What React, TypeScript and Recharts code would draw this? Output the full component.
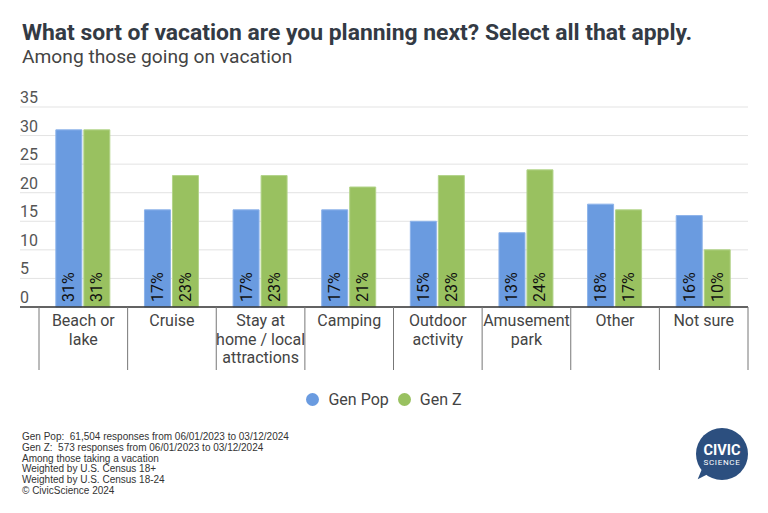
import React from "react";
import { BarChart, Bar, XAxis, YAxis, CartesianGrid, Legend, LabelList } from "recharts";

const categories = [
  "Beach or\nlake",
  "Cruise",
  "Stay at\nhome / local\nattractions",
  "Camping",
  "Outdoor\nactivity",
  "Amusement\npark",
  "Other",
  "Not sure",
];
const genPop = [31, 17, 17, 17, 15, 13, 18, 16];
const genZ = [31, 23, 23, 21, 23, 24, 17, 10];
const yTicks = [0, 5, 10, 15, 20, 25, 30, 35];
const seriesNames = ["Gen Pop", "Gen Z"];
const footerLines = [
  "Gen Pop:  61,504 responses from 06/01/2023 to 03/12/2024",
  "Gen Z:  573 responses from 06/01/2023 to 03/12/2024",
  "Among those taking a vacation",
  "Weighted by U.S. Census 18+",
  "Weighted by U.S. Census 18-24",
  "\u00A9 CivicScience 2024",
];

const data = categories.map((c, i) => ({ category: c, genPop: genPop[i], genZ: genZ[i] }));

const W = 768;
const H = 513;
const PLOT_LEFT = 39;
const PLOT_RIGHT = 748;
const BAND = (PLOT_RIGHT - PLOT_LEFT) / categories.length;
const BLUE = "#6a9be0";
const GREEN = "#99c160";
const FONT = "Roboto, 'Noto Sans', sans-serif";

const YTick = (props: any) => {
  const { y, payload } = props;
  const isZero = payload.value === 0;
  return (
    <g>
      <line x1={20} x2={PLOT_LEFT} y1={y} y2={y} stroke={isZero ? "#333" : "#e3e3e3"} strokeWidth={isZero ? 1.5 : 1} />
      <text x={20} y={y - 4} fontSize={16} fill="#555" fontFamily={FONT} textAnchor="start">
        {payload.value}
      </text>
    </g>
  );
};

const XTick = (props: any) => {
  const { x, y, payload, index } = props;
  const lines = String(payload.value).split("\n");
  const left = x - BAND / 2;
  const right = x + BAND / 2;
  return (
    <g>
      <line x1={left} x2={left} y1={y} y2={y + 63} stroke="#777" strokeWidth={1} />
      {index === categories.length - 1 && (
        <line x1={right} x2={right} y1={y} y2={y + 63} stroke="#777" strokeWidth={1} />
      )}
      {lines.map((l, i) => (
        <text key={i} x={x} y={y + 19 + i * 18.5} fontSize={16} fill="#444" fontFamily={FONT} textAnchor="middle">
          {l}
        </text>
      ))}
    </g>
  );
};

const BarLabel = (props: any) => {
  const { x, y, width, height, value } = props;
  const cx = x + width / 2;
  const by = y + height - 5;
  return (
    <text
      x={cx}
      y={by}
      transform={`rotate(-90, ${cx}, ${by})`}
      fontSize={16}
      fill="#111"
      fontFamily={FONT}
      textAnchor="start"
      dominantBaseline="central"
    >
      {`${value}%`}
    </text>
  );
};

const LegendContent = () => {
  const colors = [BLUE, GREEN];
  return (
    <div style={{ display: "flex", justifyContent: "center", alignItems: "center", fontFamily: FONT, fontSize: 16, color: "#444" }}>
      {seriesNames.map((n, i) => (
        <div key={n} style={{ display: "flex", alignItems: "center", marginLeft: i === 0 ? 0 : 9 }}>
          <span style={{ width: 13, height: 13, borderRadius: "50%", background: colors[i], display: "inline-block", marginRight: 9 }} />
          <span>{n}</span>
        </div>
      ))}
    </div>
  );
};

export default function App() {
  return (
    <div style={{ position: "absolute", left: 0, top: 0, width: W, height: H, background: "#fff", fontFamily: FONT, overflow: "hidden" }}>
      <div style={{ position: "absolute", left: 22, top: 19, fontSize: 22.9, fontWeight: 700, color: "#333a44", whiteSpace: "nowrap", lineHeight: "28px" }}>
        What sort of vacation are you planning next? Select all that apply.
      </div>
      <div style={{ position: "absolute", left: 22, top: 46, fontSize: 19.2, color: "#444", whiteSpace: "nowrap", lineHeight: "22px" }}>
        Among those going on vacation
      </div>
      <div style={{ position: "absolute", left: 0, top: 0 }}>
        <BarChart
          width={W}
          height={H}
          data={data}
          margin={{ top: 107, right: W - PLOT_RIGHT, bottom: 143, left: 0 }}
          barGap={2}
          barCategoryGap="19%"
        >
          <CartesianGrid vertical={false} stroke="#e3e3e3" />
          <YAxis
            width={PLOT_LEFT}
            domain={[0, 35]}
            ticks={yTicks}
            interval={0}
            axisLine={false}
            tickLine={false}
            tick={<YTick />}
          />
          <XAxis
            dataKey="category"
            height={63}
            interval={0}
            tickLine={false}
            tickSize={0}
            tickMargin={0}
            axisLine={{ stroke: "#333", strokeWidth: 1.5 }}
            tick={<XTick />}
          />
          <Legend
            verticalAlign="middle"
            layout="horizontal"
            wrapperStyle={{ top: 390, left: 0, width: W }}
            content={<LegendContent />}
          />
          <Bar dataKey="genPop" name={seriesNames[0]} fill={BLUE} stroke="#8db3ea" strokeWidth={1} isAnimationActive={false}>
            <LabelList dataKey="genPop" content={<BarLabel />} />
          </Bar>
          <Bar dataKey="genZ" name={seriesNames[1]} fill={GREEN} stroke="#b3d48a" strokeWidth={1} isAnimationActive={false}>
            <LabelList dataKey="genZ" content={<BarLabel />} />
          </Bar>
        </BarChart>
      </div>
      <div style={{ position: "absolute", left: 22, top: 432, fontFamily: "'Liberation Sans', Arial, sans-serif", fontSize: 10, color: "#333", lineHeight: "10.8px" }}>
        {footerLines.map((l) => (
          <div key={l} style={{ whiteSpace: "pre" }}>{l}</div>
        ))}
      </div>
      <svg style={{ position: "absolute", left: 690, top: 424 }} width={64} height={60}>
        <path d="M 14 40 L 7.7 55.3 L 24 47 Z" fill="#2c4f7f" />
        <circle cx={32} cy={30} r={26} fill="#2c4f7f" />
        <text x={32} y={31} textAnchor="middle" fill="#fff" fontSize={14.5} fontWeight={700} fontFamily={FONT}>CIVIC</text>
        <text x={32} y={40.5} textAnchor="middle" fill="#fff" fontSize={8} fontFamily={FONT} letterSpacing={0.7}>SCIENCE</text>
      </svg>
    </div>
  );
}
